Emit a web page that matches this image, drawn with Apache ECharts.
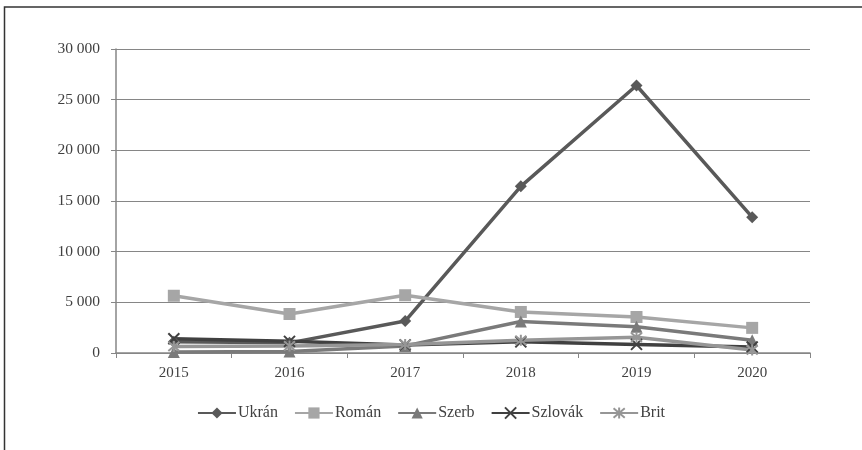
<!DOCTYPE html>
<html>
<head>
<meta charset="utf-8">
<script src="https://cdn.jsdelivr.net/npm/echarts@6/dist/echarts.min.js"></script>
<style>
html,body{margin:0;padding:0;background:#fff;}
#c{width:862px;height:450px;}
</style>
</head>
<body>
<div id="c"></div>
<script>
var categories = ['2015', '2016', '2017', '2018', '2019', '2020'];
var ukran   = [1100, 1000, 3150, 16450, 26400, 13400];
var roman   = [5650, 3850, 5700, 4050, 3550, 2480];
var szerb   = [100, 150, 700, 3100, 2600, 1250];
var szlovak = [1400, 1150, 800, 1100, 850, 600];
var brit    = [650, 700, 850, 1250, 1550, 300];
var yTicks  = [0, 5000, 10000, 15000, 20000, 25000, 30000];

var FONT = '"Liberation Serif", "DejaVu Serif", serif';
var xSym = 'path://M0,0L10,10M10,0L0,10';
var starSym = 'path://M0,0L10,10M10,0L0,10M5,-1L5,11';

function mk(name, data, color, symbol, size, strokeOnly) {
  return {
    name: name,
    type: 'line',
    data: data,
    symbol: symbol,
    symbolSize: size,
    showSymbol: true,
    lineStyle: { color: color, width: 3.5 },
    itemStyle: strokeOnly ? { color: 'rgba(0,0,0,0)', borderColor: color, borderWidth: 2 } : { color: color, borderWidth: 0 },
    emphasis: { disabled: true },
    animation: false
  };
}

var chart = echarts.init(document.getElementById('c'));
chart.setOption({
  backgroundColor: '#fff',
  animation: false,
  grid: { left: 116, right: 52, top: 49, bottom: 97, containLabel: false },
  legend: {
    bottom: 24,
    left: 'center',
    itemWidth: 38,
    itemHeight: 14,
    itemGap: 16,
    textStyle: { fontFamily: FONT, fontSize: 16, color: '#404040', padding: [0, 0, 0, -3] },
    data: ['Ukrán', 'Román', 'Szerb', 'Szlovák', 'Brit']
  },
  xAxis: {
    type: 'category',
    data: categories,
    boundaryGap: true,
    axisLine: { lineStyle: { color: '#868686', width: 1.5 } },
    axisTick: { show: true, inside: false, length: 5, lineStyle: { color: '#868686' } },
    axisLabel: { fontFamily: FONT, fontSize: 15, color: '#404040', margin: 13 },
    splitLine: { show: false }
  },
  yAxis: {
    type: 'value',
    min: 0,
    max: 30000,
    interval: 5000,
    axisLine: { show: true, lineStyle: { color: '#868686', width: 1.5 } },
    axisTick: { show: true, length: 5, lineStyle: { color: '#868686' } },
    axisLabel: {
      fontFamily: FONT, fontSize: 15.5, color: '#404040', margin: 16,
      formatter: function (v) {
        if (yTicks.indexOf(v) < 0) return '';
        return String(v).replace(/\B(?=(\d{3})+(?!\d))/g, ' ');
      }
    },
    splitLine: { show: true, lineStyle: { color: '#868686', width: 1 } }
  },
  series: [
    mk('Ukrán', ukran, '#595959', 'diamond', 12, false),
    mk('Román', roman, '#a6a6a6', 'rect', 12, false),
    mk('Szerb', szerb, '#7a7a7a', 'triangle', 12, false),
    mk('Szlovák', szlovak, '#404040', xSym, 11, true),
    mk('Brit', brit, '#969696', starSym, 11, true)
  ],
  graphic: [{
    type: 'polyline',
    shape: { points: [[4.5, 450], [4.5, 7], [862, 7]] },
    style: { stroke: '#333', lineWidth: 1.5, fill: null },
    silent: true
  }]
});
</script>
</body>
</html>
